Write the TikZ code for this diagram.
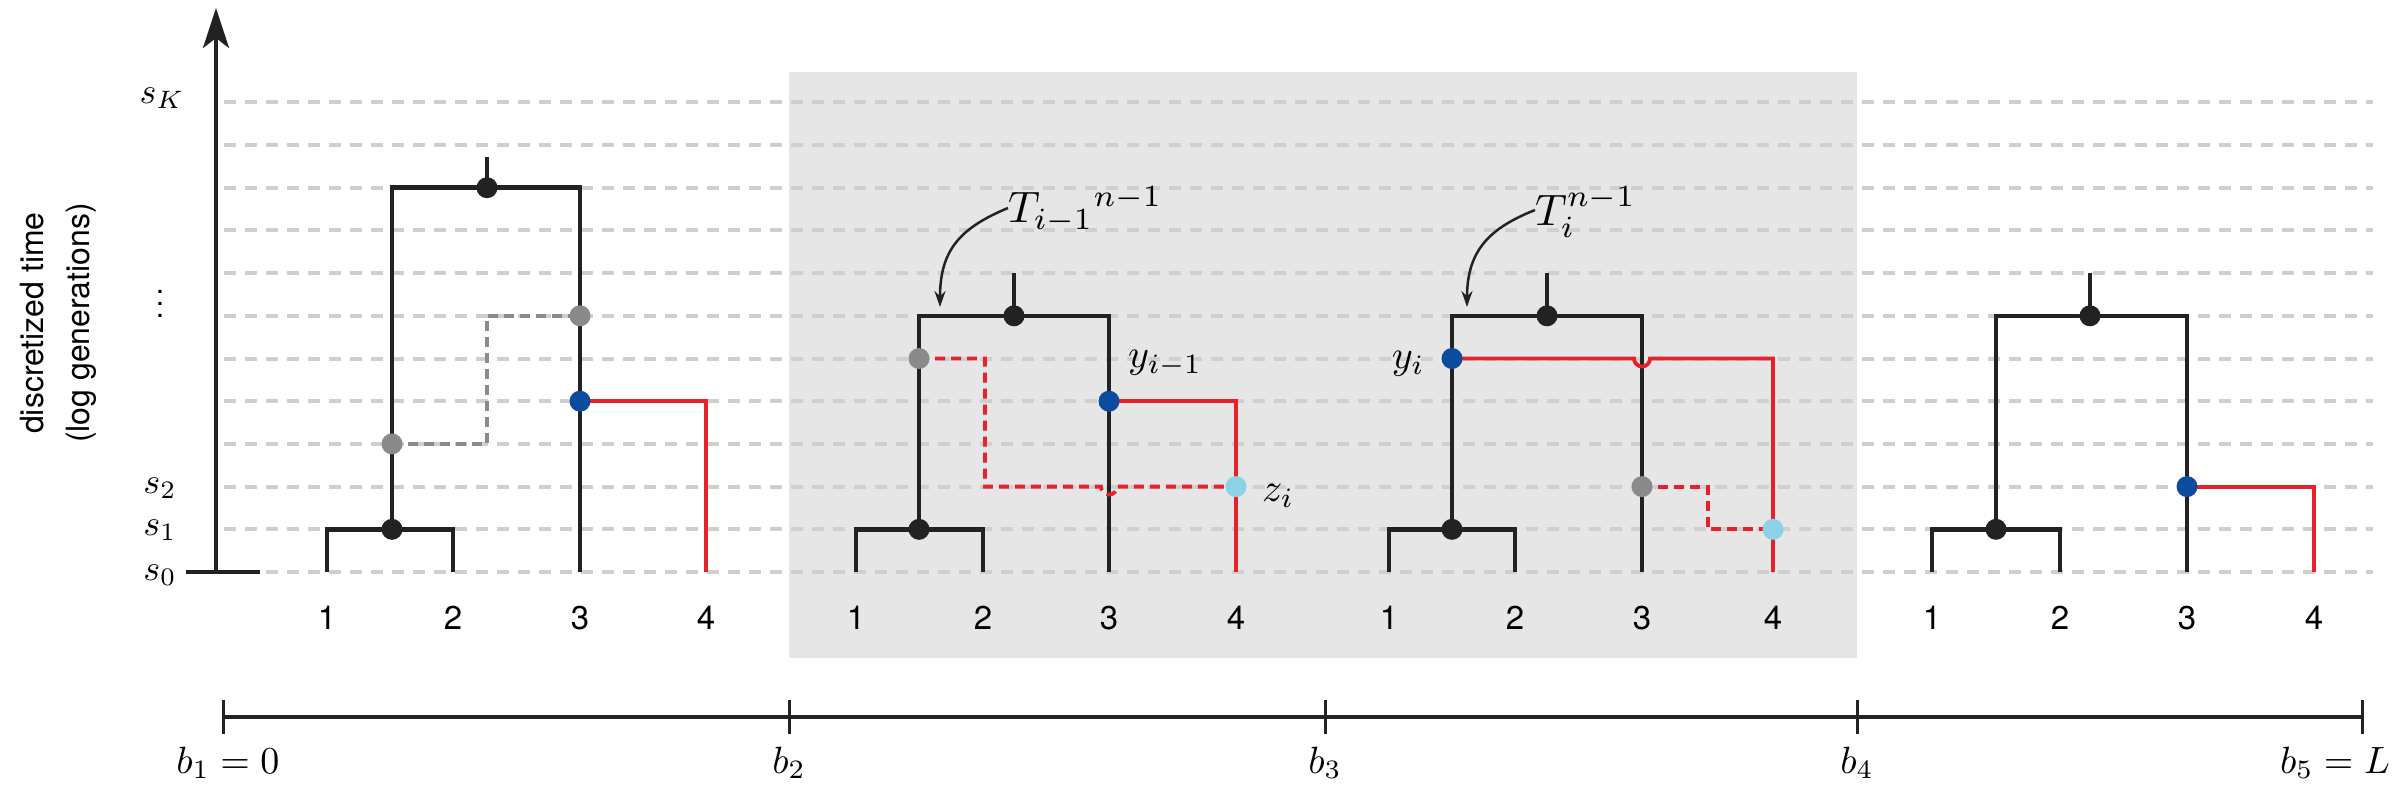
\documentclass[tikz,border=0pt]{standalone}
\usepackage{fontspec}
\setmainfont{TeX Gyre Heros}
\usetikzlibrary{arrows.meta}
\newcommand\mymath[2]{\scalebox{#1}{$#2$}}
\definecolor{boxgray}{HTML}{E6E6E6}
\definecolor{gridgray}{HTML}{CFCFCF}
\definecolor{dotblue}{HTML}{0B4C9E}
\definecolor{dotlight}{HTML}{8CD2E6}
\definecolor{dotgray}{HTML}{8A8A8A}
\definecolor{myred}{HTML}{E8202A}
\definecolor{ink}{HTML}{222222}
\begin{document}
\begin{tikzpicture}[x=1pt,y=-1pt,
  tree/.style={draw=ink,line width=4.5pt},
  redl/.style={draw=myred,line width=3.8pt},
  redd/.style={draw=myred,line width=3.8pt,dash pattern=on 10pt off 6pt},
  grayd/.style={draw=dotgray,line width=3.8pt,dash pattern=on 10pt off 6pt},
  grid/.style={draw=gridgray,line width=4pt,dash pattern=on 12pt off 9pt},
  dot/.style={circle,inner sep=0pt,minimum size=21pt},
  blk/.style={dot,fill=ink},
  blu/.style={dot,fill=dotblue},
  lbl/.style={dot,fill=dotlight},
  gry/.style={dot,fill=dotgray},
  leaf/.style={font=\fontsize{33}{36}\selectfont,anchor=base},
  mlab/.style={inner sep=0pt},
  curv/.style={draw=ink,line width=2.5pt,-{Stealth[length=16pt,width=11pt]}}
]
\useasboundingbox (0,0) rectangle (2404,800);
% shaded box
\fill[boxgray] (789,72) rectangle (1857,658);
% grid lines
\foreach \k in {0,...,11} {
  \draw[grid] (224,572-42.7*\k) -- (2373,572-42.7*\k);
}
% y axis
\coordinate (ax0) at (216,572);
\coordinate (ax1) at (216,8);
\draw[draw=ink,line width=4pt,-{Stealth[length=40pt,width=26pt,inset=10pt]}] (ax0) -- (ax1);
\draw[draw=ink,line width=4pt] (186,572) -- (260,572);
\node[mlab] (sK) at (162,98) {\mymath{3.6}{s_K}};
\node[mlab] (sdots) at (160,295) {\mymath{3}{\vdots}};
\node[mlab] (s2) at (160,488) {\mymath{3.6}{s_2}};
\node[mlab] (s1) at (160,530) {\mymath{3.6}{s_1}};
\node[mlab] (s0) at (160,575) {\mymath{3.6}{s_0}};
\node[rotate=90,align=center,font=\fontsize{32}{46}\selectfont] (ylab) at (58,323) {discretized time\\(log generations)};

% ---------- tree 1 ----------
\coordinate (t1n) at (392,529.3);
\coordinate (t1r) at (487,187.7);
\coordinate (t1ga) at (392,443.9);
\coordinate (t1gb) at (580,315.8);
\coordinate (t1b) at (580,401.2);
\draw[tree] (327,572) -- (327,529.3) -- (453,529.3) -- (453,572);
\draw[tree] (t1n) -- (392,187.7) -- (580,187.7) -- (580,572);
\draw[tree] (t1r) -- (487,157);
\draw[grayd] (t1ga) -- (487,443.9) -- (487,315.8) -- (t1gb);
\draw[redl] (t1b) -- (706,401.2) -- (706,572);
\node[blk] (t1nd) at (t1n) {};
\node[blk] (t1rd) at (t1r) {};
\node[gry] (t1gad) at (t1ga) {};
\node[gry] (t1gbd) at (t1gb) {};
\node[blu] (t1bd) at (t1b) {};
\node[leaf] (l11) at (327,629) {1};
\node[leaf] (l12) at (453,629) {2};
\node[leaf] (l13) at (580,629) {3};
\node[leaf] (l14) at (706,629) {4};

% ---------- tree 2 ----------
\coordinate (t2n) at (919,529.3);
\coordinate (t2r) at (1014,315.8);
\coordinate (t2g) at (919,358.5);
\coordinate (t2b) at (1109,401.2);
\coordinate (t2z) at (1236,486.6);
\draw[tree] (856,572) -- (856,529.3) -- (983,529.3) -- (983,572);
\draw[tree] (t2n) -- (919,315.8) -- (1109,315.8) -- (1109,572);
\draw[tree] (t2r) -- (1014,273);
\draw[redl] (t2b) -- (1236,401.2) -- (1236,572);
\draw[redd] (t2g) -- (985,358.5) -- (985,486.6) -- (1101,486.6) arc (180:0:8) -- (t2z);
\node[blk] (t2nd) at (t2n) {};
\node[blk] (t2rd) at (t2r) {};
\node[gry] (t2gd) at (t2g) {};
\node[blu] (t2bd) at (t2b) {};
\node[lbl] (t2zd) at (t2z) {};
\node[leaf] (l21) at (856,629) {1};
\node[leaf] (l22) at (983,629) {2};
\node[leaf] (l23) at (1109,629) {3};
\node[leaf] (l24) at (1236,629) {4};
\node[mlab,anchor=west] (ylab2) at (1128,364) {\mymath{4}{y_{i-1}}};
\node[mlab,anchor=west] (zlab) at (1262,496) {\mymath{4}{z_i}};
\node[mlab,anchor=west] (Tlab2) at (1008,210) {\mymath{4.4}{T_{i-1}{}^{n-1}}};
\coordinate (t2arr) at (940,307);
\draw[curv] (1008,208) .. controls (960,228) and (940,250) .. (t2arr);

% ---------- tree 3 ----------
\coordinate (t3n) at (1452,529.3);
\coordinate (t3r) at (1547,315.8);
\coordinate (t3y) at (1452,358.5);
\coordinate (t3g) at (1642,486.6);
\coordinate (t3z) at (1773,529.3);
\draw[tree] (1389,572) -- (1389,529.3) -- (1515,529.3) -- (1515,572);
\draw[tree] (t3n) -- (1452,315.8) -- (1642,315.8) -- (1642,572);
\draw[tree] (t3r) -- (1547,273);
\draw[redl] (t3y) -- (1634,358.5) arc (180:0:8) -- (1773,358.5) -- (1773,572);
\draw[redd] (t3g) -- (1708,486.6) -- (1708,529.3) -- (t3z);
\node[blk] (t3nd) at (t3n) {};
\node[blk] (t3rd) at (t3r) {};
\node[blu] (t3yd) at (t3y) {};
\node[gry] (t3gd) at (t3g) {};
\node[lbl] (t3zd) at (t3z) {};
\node[leaf] (l31) at (1389,629) {1};
\node[leaf] (l32) at (1515,629) {2};
\node[leaf] (l33) at (1642,629) {3};
\node[leaf] (l34) at (1773,629) {4};
\node[mlab,anchor=east] (ylab3) at (1425,364) {\mymath{4}{y_i}};
\node[mlab,anchor=west] (Tlab3) at (1535,212) {\mymath{4.4}{T_i^{n-1}}};
\coordinate (t3arr) at (1467,307);
\draw[curv] (1535,210) .. controls (1490,228) and (1467,250) .. (t3arr);

% ---------- tree 4 ----------
\coordinate (t4n) at (1996,529.3);
\coordinate (t4r) at (2090,315.8);
\coordinate (t4b) at (2187,486.6);
\draw[tree] (1932,572) -- (1932,529.3) -- (2060,529.3) -- (2060,572);
\draw[tree] (t4n) -- (1996,315.8) -- (2187,315.8) -- (2187,572);
\draw[tree] (t4r) -- (2090,273);
\draw[redl] (t4b) -- (2314,486.6) -- (2314,572);
\node[blk] (t4nd) at (t4n) {};
\node[blk] (t4rd) at (t4r) {};
\node[blu] (t4bd) at (t4b) {};
\node[leaf] (l41) at (1932,629) {1};
\node[leaf] (l42) at (2060,629) {2};
\node[leaf] (l43) at (2187,629) {3};
\node[leaf] (l44) at (2314,629) {4};

% ---------- bottom axis ----------
\coordinate (bA) at (223,717);
\coordinate (bB) at (2362,717);
\draw[draw=ink,line width=3.5pt] (bA) -- (bB);
\foreach \x in {223,789,1325,1857,2362} {
  \draw[draw=ink,line width=3pt] (\x,700) -- (\x,734);
}
\node[mlab,anchor=base] (b1) at (228,773) {\mymath{3.8}{b_1=0}};
\node[mlab,anchor=base] (b2) at (789,773) {\mymath{3.8}{b_2}};
\node[mlab,anchor=base] (b3) at (1325,773) {\mymath{3.8}{b_3}};
\node[mlab,anchor=base] (b4) at (1857,773) {\mymath{3.8}{b_4}};
\node[mlab,anchor=base] (b5) at (2335,773) {\mymath{3.8}{b_5=L}};
\end{tikzpicture}
\end{document}
